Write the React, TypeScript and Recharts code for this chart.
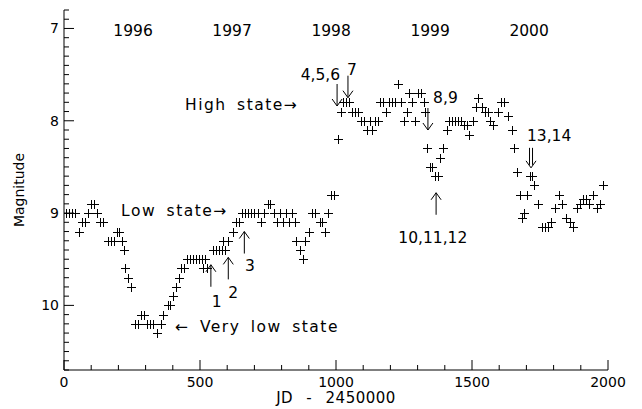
import { ScatterChart, Scatter, XAxis, YAxis } from 'recharts'

// light curve, JD - 2450000 vs. magnitude
const jdValues = [
  7, 18, 29, 40, 55, 66, 77, 88, 99, 110, 121, 132, 143, 162, 173, 184, 195, 202, 213, 221,
  224, 235, 246, 261, 272, 283, 294, 305, 316, 327, 342, 357, 364, 382, 390, 401, 412, 423, 430, 441,
  452, 463, 474, 485, 496, 507, 511, 518, 526, 548, 559, 570, 581, 592, 585, 603, 621, 632, 643, 654,
  665, 676, 688, 699, 713, 724, 735, 750, 757, 772, 783, 794, 805, 816, 827, 838, 849, 853, 868, 879,
  886, 900, 912, 923, 941, 949, 960, 971, 982, 993,
  1007, 1018, 1026, 1037, 1048, 1059, 1070, 1081, 1092, 1103, 1114, 1125, 1132, 1143, 1154, 1162, 1173, 1184, 1195, 1206,
  1217, 1228, 1239, 1250, 1261, 1268, 1279, 1290, 1301, 1312, 1323, 1327, 1334, 1346, 1353, 1364, 1375, 1382, 1393, 1408,
  1415, 1426, 1437, 1448, 1459, 1471, 1482, 1489, 1504, 1515, 1522, 1537, 1548, 1559, 1566, 1577, 1596, 1607, 1618, 1632,
  1647, 1654, 1665, 1676, 1684, 1691, 1702, 1713, 1721, 1728, 1743, 1757, 1768, 1779, 1790, 1805, 1820, 1831, 1846, 1860,
  1871, 1886, 1897, 1908, 1919, 1930, 1945, 1960, 1971, 1982,
]
const magValues = [
  9.0, 9.0, 9.0, 9.0, 9.2, 9.1, 9.1, 9.0, 8.9, 8.9, 9.0, 9.1, 9.1, 9.3, 9.3, 9.3, 9.2, 9.2, 9.3, 9.4,
  9.6, 9.7, 9.8, 10.2, 10.2, 10.1, 10.1, 10.2, 10.2, 10.2, 10.3, 10.2, 10.1, 10.0, 10.0, 9.9, 9.8, 9.7, 9.6, 9.6,
  9.5, 9.5, 9.5, 9.5, 9.5, 9.5, 9.6, 9.5, 9.6, 9.4, 9.4, 9.4, 9.4, 9.4, 9.3, 9.3, 9.2, 9.1, 9.1, 9.0,
  9.0, 9.0, 9.0, 9.0, 9.0, 9.1, 9.0, 8.9, 8.9, 9.0, 9.1, 9.0, 9.1, 9.0, 9.1, 9.0, 9.1, 9.3, 9.4, 9.5,
  9.3, 9.2, 9.0, 9.0, 9.1, 9.1, 9.2, 9.0, 8.8, 8.8,
  8.2, 7.9, 7.8, 7.8, 7.8, 7.9, 7.9, 7.9, 8.0, 8.0, 8.1, 8.0, 8.1, 8.0, 8.0, 7.8, 7.8, 7.9, 7.8, 7.8,
  7.8, 7.6, 7.8, 8.0, 7.9, 7.7, 7.8, 8.0, 7.7, 7.7, 7.8, 7.9, 8.3, 8.5, 8.5, 8.6, 8.6, 8.4, 8.3, 8.1,
  8.0, 8.0, 8.0, 8.0, 8.0, 8.05, 8.05, 8.15, 8.0, 7.85, 7.75, 7.85, 7.9, 7.9, 8.0, 8.05, 7.9, 7.8, 7.8, 7.95,
  8.1, 8.3, 8.55, 8.8, 9.05, 9.0, 8.8, 8.6, 8.6, 8.7, 8.9, 9.15, 9.15, 9.15, 9.1, 8.95, 8.8, 8.9, 9.05, 9.1,
  9.15, 8.95, 8.9, 8.85, 8.85, 8.9, 8.8, 8.95, 8.9, 8.7,
]

const xLabels = [0, 500, 1000, 1500, 2000]
const yLabels = [7, 8, 9, 10]
const xTicks = Array.from({ length: 21 }, (_, i) => i * 100)
const yTicks = Array.from({ length: 40 }, (_, i) => Math.round((6.8 + i * 0.1) * 10) / 10)

// year labels (centred on mid-year)
const years = ['1996', '1997', '1998', '1999', '2000']
const yearJd = [254, 618, 982, 1346, 1710]

// text notes: anchor point in data coords
const noteText = ['Low state\u2192', '\u2190 Very low state', 'High state\u2192', '4,5,6', '7', '8,9', '10,11,12', '13,14', '1', '2', '3']
const noteJd = [210, 408, 445, 1015, 1059, 1357, 1356, 1702, 561, 622, 684]
const noteMag = [8.97, 10.23, 7.82, 7.5, 7.45, 7.75, 9.26, 8.16, 9.96, 9.86, 9.57]
const noteAnchor = ['start', 'start', 'start', 'end', 'middle', 'start', 'middle', 'start', 'middle', 'middle', 'middle']

// arrows: tip position, direction
const arrowJd = [1004, 1044, 1338, 1368, 1717, 540, 604, 663]
const arrowMag = [7.84, 7.75, 8.1, 8.78, 8.51, 9.56, 9.48, 9.2]
const arrowDir = ['down', 'down', 'down', 'up', 'ddown', 'up', 'up', 'up']

const points = jdValues.map((jd, i) => ({ jd, mag: magValues[i] }))
const yearData = years.map((label, i) => ({ jd: yearJd[i], mag: 7.02, label, anchor: 'middle' }))
const noteData = noteText.map((label, i) => ({ jd: noteJd[i], mag: noteMag[i], label, anchor: noteAnchor[i] }))
const arrowData = arrowJd.map((jd, i) => ({ jd, mag: arrowMag[i], dir: arrowDir[i] }))

const FONT = '"DejaVu Sans", sans-serif'

const Plus = (props: any) => {
  const { cx, cy } = props
  const x = Math.round(cx) + 0.5
  const y = Math.round(cy) + 0.5
  return <path d={`M${x - 4.5},${y}h9M${x},${y - 4.5}v9`} stroke="#000" strokeWidth={1} fill="none" />
}

const TextMark = (props: any) => {
  const { cx, cy, payload } = props
  const wordy = /[a-z]/i.test(payload.label)
  return (
    <text
      x={cx}
      y={cy}
      dy="0.35em"
      textAnchor={payload.anchor || 'middle'}
      fontFamily={FONT}
      fontSize={15.5}
      letterSpacing={wordy ? 1.5 : 0}
      wordSpacing={wordy ? 4 : 0}
      fill="#000"
    >
      {payload.label}
    </text>
  )
}

const ArrowMark = (props: any) => {
  const { cx, cy, payload } = props
  const len = 22
  const h = 5
  if (payload.dir === 'up') {
    return (
      <path d={`M${cx},${cy}v${len}M${cx - h},${cy + h + 2}L${cx},${cy}L${cx + h},${cy + h + 2}`} stroke="#000" fill="none" />
    )
  }
  if (payload.dir === 'ddown') {
    return (
      <path
        d={`M${cx - 1.5},${cy - 3}v${-len + 5}M${cx + 1.5},${cy - 3}v${-len + 5}M${cx - h},${cy - h - 2}L${cx},${cy}L${cx + h},${cy - h - 2}`}
        stroke="#000"
        fill="none"
      />
    )
  }
  return <path d={`M${cx},${cy}v${-len}M${cx - h},${cy - h - 2}L${cx},${cy}L${cx + h},${cy - h - 2}`} stroke="#000" fill="none" />
}

const BottomTick = (props: any) => {
  const { x, y, payload } = props
  const major = xLabels.includes(payload.value)
  return (
    <g>
      <line x1={x} x2={x} y1={y} y2={y - (major ? 10 : 5)} stroke="#000" />
      {major && (
        <text x={x} y={y + 17} textAnchor="middle" fontFamily={FONT} fontSize={14} fill="#000">
          {payload.value}
        </text>
      )}
    </g>
  )
}

const TopTick = (props: any) => {
  const { x, y, payload } = props
  const major = xLabels.includes(payload.value)
  return <line x1={x} x2={x} y1={y} y2={y + (major ? 10 : 5)} stroke="#000" />
}

const LeftTick = (props: any) => {
  const { x, y, payload } = props
  const major = yLabels.includes(payload.value)
  return (
    <g>
      <line x1={x} x2={x + (major ? 10 : 5)} y1={y} y2={y} stroke="#000" />
      {major && (
        <text x={x - 5} y={y} dy="0.35em" textAnchor="end" fontFamily={FONT} fontSize={14} fill="#000">
          {payload.value}
        </text>
      )}
    </g>
  )
}

const RightTick = (props: any) => {
  const { x, y, payload } = props
  const major = yLabels.includes(payload.value)
  return <line x1={x} x2={x - (major ? 10 : 5)} y1={y} y2={y} stroke="#000" />
}

const XTitle = (props: any) => {
  const { x, y, width } = props.viewBox
  return (
    <text x={x + width / 2} y={y + 33} textAnchor="middle" fontFamily={FONT} fontSize={15} letterSpacing={0.5} wordSpacing={8} fill="#000">
      JD - 2450000
    </text>
  )
}

const YTitle = (props: any) => {
  const { y, height } = props.viewBox
  const cx = 19
  const cy = y + height / 2
  return (
    <text x={cx} y={cy} dy="0.35em" textAnchor="middle" transform={`rotate(-90 ${cx} ${cy})`} fontFamily={FONT} fontSize={14} fill="#000">
      Magnitude
    </text>
  )
}

export default function App() {
  return (
    <div style={{ position: 'absolute', left: 0, top: 0, background: '#fff' }}>
      <ScatterChart width={642} height={409} margin={{ top: 10, right: 34, bottom: 0, left: 0 }}>
        <XAxis
          xAxisId="b"
          type="number"
          dataKey="jd"
          domain={[0, 2000]}
          ticks={xTicks}
          interval={0}
          allowDataOverflow
          tickSize={0}
          tickMargin={0}
          tickLine={false}
          tick={BottomTick}
          axisLine={{ stroke: '#000' }}
          height={39}
          label={{ content: XTitle }}
        />
        <XAxis
          xAxisId="t"
          orientation="top"
          type="number"
          dataKey="jd"
          domain={[0, 2000]}
          ticks={xTicks}
          interval={0}
          allowDataOverflow
          tickSize={0}
          tickMargin={0}
          tickLine={false}
          tick={TopTick}
          axisLine={{ stroke: '#000' }}
          height={0}
        />
        <YAxis
          yAxisId="l"
          type="number"
          dataKey="mag"
          domain={[6.8, 10.7]}
          reversed
          ticks={yTicks}
          interval={0}
          allowDataOverflow
          tickSize={0}
          tickMargin={0}
          tickLine={false}
          tick={LeftTick}
          axisLine={{ stroke: '#000' }}
          width={64}
          label={{ content: YTitle }}
        />
        <YAxis
          yAxisId="r"
          orientation="right"
          type="number"
          dataKey="mag"
          domain={[6.8, 10.7]}
          reversed
          ticks={yTicks}
          interval={0}
          allowDataOverflow
          tickSize={0}
          tickMargin={0}
          tickLine={false}
          tick={RightTick}
          axisLine={{ stroke: '#000' }}
          width={0}
        />
        <Scatter xAxisId="b" yAxisId="l" data={points} shape={Plus} isAnimationActive={false} />
        <Scatter xAxisId="b" yAxisId="l" data={yearData} shape={TextMark} isAnimationActive={false} />
        <Scatter xAxisId="b" yAxisId="l" data={noteData} shape={TextMark} isAnimationActive={false} />
        <Scatter xAxisId="b" yAxisId="l" data={arrowData} shape={ArrowMark} isAnimationActive={false} />
      </ScatterChart>
    </div>
  )
}
